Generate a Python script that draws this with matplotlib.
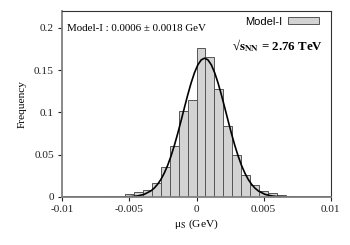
import matplotlib
matplotlib.use("Agg")
import matplotlib.pyplot as plt
import numpy as np

# histogram: 30 bins from -0.01 to 0.01 GeV
bin_lo, bin_hi, n_bins = -0.01, 0.01, 30
freq = [0, 0, 0, 0, 0, 0, 0.0008, 0.003, 0.0055, 0.0085,
        0.017, 0.035, 0.060, 0.101, 0.114, 0.176, 0.165, 0.127, 0.084, 0.050,
        0.026, 0.014, 0.0075, 0.0045, 0.002, 0.0005, 0, 0, 0, 0]

# fitted curve
fit_x = [-0.01, -0.008, -0.007, -0.0054, -0.0049, -0.0044, -0.0039, -0.0034,
         -0.00315, -0.0029, -0.00265, -0.0024, -0.00215, -0.0019, -0.00165,
         -0.0014, -0.00115, -0.0009, -0.00065, -0.0004, -0.00015, 0.0001,
         0.00035, 0.0006, 0.00085, 0.0011, 0.00135, 0.0016, 0.00185, 0.0021,
         0.00235, 0.0026, 0.00285, 0.0031, 0.00335, 0.0036, 0.00385, 0.0041,
         0.00435, 0.0046, 0.0051, 0.0056, 0.0061, 0.0066, 0.008, 0.01]
fit_y = [0, 0, 0.00005, 0.0001, 0.0004, 0.0012, 0.0031, 0.0072,
         0.0105, 0.0150, 0.0208, 0.0283, 0.0374, 0.0484, 0.0610,
         0.0751, 0.0902, 0.1057, 0.1209, 0.1349, 0.1469, 0.1562,
         0.1620, 0.164, 0.1620, 0.1562, 0.1469, 0.1349, 0.1209, 0.1057,
         0.0902, 0.0751, 0.0610, 0.0484, 0.0374, 0.0283, 0.0208, 0.0150,
         0.0105, 0.0072, 0.0031, 0.0012, 0.0004, 0.0001, 0, 0]

xticks = [-0.01, -0.005, 0, 0.005, 0.01]
xticklabels = ["-0.01", "-0.005", "0", "0.005", "0.01"]
yticks = [0, 0.05, 0.1, 0.15, 0.2]
yticklabels = ["0", "0.05", "0.1", "0.15", "0.2"]

plt.rcParams["font.family"] = ["Liberation Serif", "DejaVu Serif"]
plt.rcParams["mathtext.fontset"] = "stix"

fig = plt.figure(figsize=(3.5, 2.45), dpi=100)
ax = fig.add_axes([0.178, 0.196, 0.767, 0.760])

edges = np.linspace(bin_lo, bin_hi, n_bins + 1)
ax.bar(edges[:-1], freq, width=np.diff(edges), align="edge",
       color="#d3d3d3", edgecolor="#555555", linewidth=0.7, label="Model-I")
ax.plot(fit_x, fit_y, color="black", lw=1.2)

ax.set_xlim(-0.01, 0.01)
ax.set_ylim(0, 0.22)
ax.set_xticks(xticks)
ax.set_xticklabels(xticklabels)
ax.set_yticks(yticks)
ax.set_yticklabels(yticklabels)
ax.tick_params(direction="out", length=3, width=0.8, labelsize=8.2,
               colors="#222222", pad=3)

for side in ["left", "bottom"]:
    ax.spines[side].set_color("#808080")
    ax.spines[side].set_linewidth(1.3)
for side in ["top", "right"]:
    ax.spines[side].set_color("#333333")
    ax.spines[side].set_linewidth(0.8)

ax.set_xlabel("μ$_{\\rm S}$ (GeV)", fontsize=8.2, labelpad=2)
ax.set_ylabel("Frequency", fontsize=8.2, labelpad=5)

ax.text(0.018, 0.905, "Model-I : 0.0006 ± 0.0018 GeV", transform=ax.transAxes,
        fontsize=7.9, va="center", ha="left")
ax.text(0.97, 0.815, "√$\\mathbf{s_{NN}}$ = 2.76 TeV", transform=ax.transAxes,
        fontsize=9.3, fontweight="bold", va="center", ha="right")

ax.legend(loc="upper right", frameon=False, markerfirst=False,
          prop={"family": "Liberation Sans", "size": 8},
          handlelength=2.8, handleheight=0.55, handletextpad=0.5,
          borderaxespad=0.2, bbox_to_anchor=(0.98, 1.005))

fig.savefig("out.png", dpi=100)
